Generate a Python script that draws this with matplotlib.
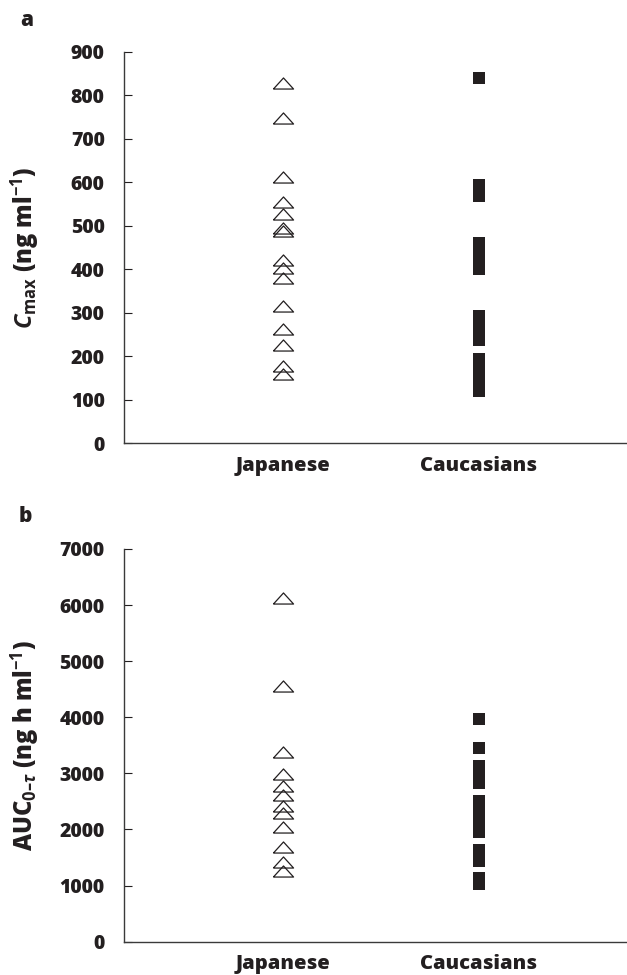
import numpy as np
import matplotlib
matplotlib.use('Agg')
import matplotlib.pyplot as plt

# Данные
groups = ['Japanese', 'Caucasians']

cmax_japanese = [828, 747, 611, 555, 528, 494, 488, 421, 402, 381, 316, 263, 226, 178, 159]
cmax_caucasian = [839, 594, 569, 460, 440, 420, 400, 292, 265, 238, 193, 170, 145, 121]

auc_japanese = [6130, 4550, 3380, 2995, 2770, 2615, 2415, 2290, 2045, 1682, 1415, 1255]
auc_caucasian = [3970, 3453, 3130, 2980, 2830, 2510, 2330, 2150, 1960, 1635, 1444, 1135, 1030]

cmax_ticks = [0, 100, 200, 300, 400, 500, 600, 700, 800, 900]
auc_ticks = [0, 1000, 2000, 3000, 4000, 5000, 6000, 7000]

ink = '#231f20'
fam = 'Open Sans'
plt.rcParams['font.family'] = [fam, 'DejaVu Sans']
plt.rcParams['font.weight'] = 'bold'
plt.rcParams['mathtext.fontset'] = 'custom'
plt.rcParams['mathtext.rm'] = fam + ':bold'
plt.rcParams['mathtext.bf'] = fam + ':bold'
plt.rcParams['mathtext.it'] = fam + ':bold:italic'

# Приплюснутый треугольник
tri = [(-1, -0.55), (1, -0.55), (0, 0.55), (-1, -0.55)]

fig = plt.figure(figsize=(6.27, 9.75), dpi=100)
ax_a = fig.add_axes([0.198, 0.5453, 0.802, 0.4017])
ax_b = fig.add_axes([0.198, 0.0342, 0.802, 0.4028])


def draw_panel(ax, jap, cau, ticks, ylabel):
    ax.plot(np.full(len(jap), 1), jap, linestyle='none', marker=tri,
            markersize=14.5, markerfacecolor='none', markeredgecolor=ink,
            markeredgewidth=0.9)
    ax.plot(np.full(len(cau), 2), cau, linestyle='none', marker='s',
            markersize=8.6, color=ink, markeredgewidth=0)
    ax.set_xlim(0.19, 2.755)
    ax.set_ylim(ticks[0], ticks[-1])
    ax.set_yticks(ticks)
    ax.set_xticks([1, 2])
    ax.set_xticklabels(groups)
    for s in ['top', 'right']:
        ax.spines[s].set_visible(False)
    for s in ['left', 'bottom']:
        ax.spines[s].set_color('#3a3a3a')
        ax.spines[s].set_linewidth(1.0)
    ax.tick_params(axis='y', direction='in', length=6, width=0.8,
                   pad=14, labelsize=14, colors=ink)
    ax.tick_params(axis='x', length=0, pad=9, labelsize=14.5, colors=ink)
    for lab in ax.get_xticklabels() + ax.get_yticklabels():
        lab.set_fontweight('heavy')
    ax.set_ylabel(ylabel, fontsize=17, fontweight='heavy', color=ink,
                  va='center')
    ax.yaxis.set_label_coords(-0.197, 0.5)


draw_panel(ax_a, cmax_japanese, cmax_caucasian, cmax_ticks,
           r'$C_{\mathrm{max}}$ (ng ml$^{\mathrm{-1}}$)')
draw_panel(ax_b, auc_japanese, auc_caucasian, auc_ticks,
           'AUC$_{\\mathrm{0\u2013}\\tau}$ (ng h ml$^{\\mathrm{-1}}$)')

fig.text(0.043, 0.979, 'a', fontsize=15, fontweight='heavy', color=ink,
         ha='center', va='center')
fig.text(0.040, 0.470, 'b', fontsize=15, fontweight='heavy', color=ink,
         ha='center', va='center')

fig.savefig('out.png', dpi=100, facecolor='white')
